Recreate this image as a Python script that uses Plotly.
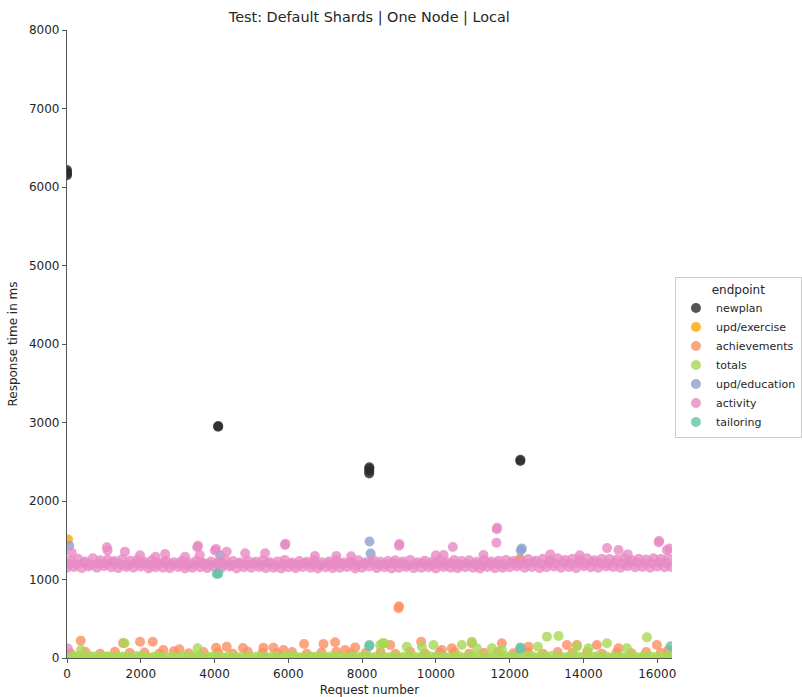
import plotly.graph_objects as go

# ---- response times per endpoint (request number, ms) ----
newplan_x = [0, 0, 0, 0, 4096, 4100, 8192, 8192, 8194, 8196, 12288, 12290]
newplan_y = [6150, 6170, 6190, 6215, 2945, 2955, 2350, 2380, 2410, 2430, 2510, 2525]

upd_exercise_x = [30, 4190, 12270, 12300]
upd_exercise_y = [1510, 1215, 1260, 1250]

upd_education_x = [60, 4150, 8200, 8230, 12330, 12300]
upd_education_y = [1430, 1310, 1485, 1330, 1395, 1370]

tailoring_x = [4060, 4100, 8190, 8200, 12285, 12290, 16360]
tailoring_y = [1070, 1075, 150, 165, 115, 135, 150]

activity_x = [
    0, 190, 400, 590, 810, 1000, 1200, 1390, 1610, 1800, 2000, 2210, 2400, 2600,
    2790, 3010, 3200, 3400, 3610, 3800, 4000, 4190, 4410, 4600, 4800, 5000, 5210,
    5390, 5600, 5810, 6000, 6200, 6390, 6600, 6800, 7010, 7200, 7400, 7590, 7810,
    8000, 8200, 8400, 8610, 8800, 9000, 9190, 9400, 9610, 9800, 10000, 10210,
    10400, 10590, 10800, 11010, 11200, 11400, 11600, 11810, 12000, 12190, 12400,
    12600, 12810, 13000, 13200, 13390, 13600, 13800, 14010, 14200, 14400, 14610,
    14800, 15000, 15190, 15400, 15600, 15810, 16000, 16200, 16380,
    50, 250, 460, 650, 850, 1050, 1240, 1450, 1650, 1860, 2050, 2250, 2440, 2650,
    2850, 3060, 3250, 3450, 3650, 3840, 4050, 4250, 4460, 4650, 4850, 5050, 5240,
    5450, 5650, 5860, 6050, 6250, 6440, 6650, 6850, 7060, 7250, 7450, 7650, 7840,
    8050, 8250, 8460, 8650, 8850, 9050, 9240, 9450, 9650, 9860, 10050, 10250,
    10440, 10650, 10850, 11060, 11250, 11450, 11650, 11840, 12050, 12250, 12460,
    12650, 12850, 13050, 13240, 13450, 13650, 13860, 14050, 14250, 14440, 14650,
    14850, 15060, 15250, 15450, 15650, 15840, 16050, 16250,
    90, 300, 490, 700, 900, 1100, 1290, 1500, 1710, 1900, 2100, 2300, 2500, 2690,
    2900, 3100, 3300, 3510, 3700, 3900, 4100, 4300, 4500, 4700, 4900, 5110, 5300,
    5500, 5700, 5900, 6100, 6300, 6500, 6700, 6900, 7100, 7300, 7500, 7700, 7900,
    8100, 8300, 8500, 8700, 8900, 9100, 9300, 9500, 9700, 9900, 10100, 10300,
    10500, 10700, 10900, 11100, 11300, 11500, 11700, 11900, 12100, 12300, 12500,
    12700, 12900, 13100, 13300, 13500, 13700, 13900, 14100, 14300, 14500, 14700,
    14900, 15100, 15300, 15500, 15700, 15900, 16100, 16300,
    20, 130, 1080, 1100, 1570, 1980, 2660, 3530, 3550, 3600, 4010, 4040, 4330,
    4830, 5370, 5910, 5920, 9000, 9010, 10210, 10460, 11290, 11640, 11650, 11660,
    14640, 14950, 16040, 16050, 16260, 16330, 6720, 7300, 10000, 13100, 13900,
    15200, 2400, 3200, 7700,
]
activity_y = [
    1150, 1160, 1145, 1165, 1150, 1170, 1155, 1145, 1160, 1150, 1165, 1140, 1155,
    1150, 1145, 1160, 1140, 1150, 1155, 1145, 1160, 1150, 1165, 1140, 1155, 1150,
    1160, 1145, 1150, 1140, 1155, 1145, 1160, 1150, 1140, 1155, 1145, 1150, 1160,
    1140, 1150, 1165, 1145, 1155, 1140, 1150, 1160, 1145, 1150, 1155, 1140, 1160,
    1150, 1145, 1155, 1150, 1140, 1160, 1145, 1150, 1155, 1165, 1150, 1160, 1145,
    1155, 1165, 1150, 1160, 1145, 1170, 1155, 1150, 1165, 1160, 1150, 1170, 1155,
    1160, 1150, 1165, 1155, 1160,
    1200, 1195, 1210, 1190, 1205, 1200, 1215, 1195, 1190, 1205, 1200, 1185, 1195,
    1210, 1190, 1200, 1185, 1195, 1205, 1190, 1200, 1195, 1185, 1205, 1195, 1200,
    1190, 1210, 1185, 1195, 1200, 1190, 1205, 1195, 1185, 1200, 1190, 1195, 1205,
    1185, 1200, 1210, 1190, 1195, 1205, 1200, 1185, 1195, 1210, 1190, 1200, 1195,
    1205, 1190, 1200, 1195, 1185, 1205, 1200, 1195, 1210, 1200, 1205, 1215, 1200,
    1210, 1205, 1215, 1200, 1210, 1205, 1215, 1210, 1200, 1215, 1205, 1210, 1215,
    1205, 1210, 1215, 1210,
    1240, 1265, 1230, 1270, 1245, 1255, 1235, 1260, 1240, 1250, 1225, 1245, 1215,
    1240, 1220, 1235, 1215, 1240, 1210, 1230, 1225, 1245, 1235, 1215, 1240, 1225,
    1245, 1220, 1230, 1250, 1215, 1235, 1225, 1245, 1220, 1230, 1240, 1215, 1225,
    1245, 1220, 1250, 1225, 1235, 1245, 1230, 1250, 1220, 1240, 1225, 1245, 1220,
    1250, 1235, 1245, 1225, 1245, 1230, 1240, 1250, 1235, 1245, 1260, 1240, 1265,
    1245, 1270, 1250, 1265, 1255, 1270, 1245, 1265, 1260, 1255, 1270, 1250, 1265,
    1255, 1270, 1260, 1275,
    120, 1340, 1410, 1370, 1355, 1310, 1325, 1410, 1430, 1312, 1370, 1390, 1354,
    1333, 1333, 1440, 1455, 1430, 1452, 1312, 1415, 1312, 1469, 1640, 1660, 1400,
    1376, 1474, 1490, 1376, 1395, 1300, 1300, 1310, 1320, 1310, 1320, 1290, 1290,
    1295,
]

totals_x = [
    0, 250, 500, 760, 1000, 1250, 1500, 1750, 2010, 2250, 2500, 2750, 3000, 3250,
    3500, 3760, 4000, 4250, 4500, 4750, 5000, 5250, 5500, 5760, 6000, 6250, 6500,
    6750, 7000, 7250, 7500, 7750, 8000, 8250, 8500, 8750, 9000, 9260, 9500, 9750,
    10000, 10250, 10500, 10750, 11000, 11250, 11500, 11760, 12000, 12250, 12500,
    12750, 13000, 13250, 13500, 13750, 14000, 14250, 14500, 14760, 15000, 15250,
    15500, 15750, 16000, 16250, 16390,
    125, 375, 625, 880, 1125, 1375, 1625, 1880, 2125, 2375, 2625, 2880, 3125, 3375,
    3625, 3880, 4125, 4375, 4625, 4880, 5125, 5375, 5625, 5880, 6125, 6375, 6625,
    6880, 7125, 7375, 7625, 7880, 8125, 8375, 8625, 8880, 9125, 9375, 9625, 9880,
    10125, 10375, 10625, 10880, 11125, 11375, 11625, 11880, 12125, 12375, 12625,
    12880, 13125, 13375, 13625, 13880, 14125, 14375, 14625, 14880, 15125, 15375,
    15625, 15880, 16125, 16350,
    35, 371, 643, 1094, 1546, 1980, 3534, 6156, 6725, 7268, 8488, 8551, 9212,
    9618, 9934, 10703, 10975, 11110, 11517, 11788, 12765, 13009, 13324, 13822,
    14137, 14636, 15178, 15720, 380, 1560, 3540, 8600,
]
totals_y = [
    10, 15, 5, 20, 10, 5, 15, 10, 20, 5, 15, 10, 5, 15, 5, 10, 20, 5, 15, 10,
    5, 15, 10, 5, 20, 10, 15, 5, 10, 20, 5, 15, 10, 5, 15, 10, 5, 20, 10, 15,
    5, 10, 20, 5, 15, 10, 5, 15, 10, 5, 20, 10, 15, 5, 10, 20, 5, 15, 10, 5,
    15, 10, 5, 20, 10, 15, 10,
    20, 15, 25, 10, 20, 15, 10, 25, 15, 20, 10, 15, 25, 20, 10, 15, 20, 25, 10,
    15, 20, 10, 25, 15, 20, 10, 15, 25, 20, 10, 15, 20, 25, 15, 10, 20, 15, 25,
    10, 20, 15, 10, 25, 20, 15, 10, 20, 25, 15, 10, 20, 15, 25, 10, 20, 15, 10,
    25, 20, 15, 10, 20, 25, 15, 10, 20, 15, 25, 10, 20, 15, 10, 25, 20, 15, 10,
    166, 187, 144, 144, 166, 166, 208, 123, 123, 102, 144, 272, 280, 144, 123, 187,
    123, 263, 102, 187, 123, 187, 123, 144, 114, 114, 229, 123, 110, 120, 235, 100,
]

achievements_x = [
    100, 500, 900, 1300, 1700, 2100, 2500, 2900, 3300, 3700, 4100, 4500, 4900,
    5300, 5700, 6100, 6500, 6900, 7300, 7700, 8100, 8500, 8900, 9300, 9700, 10100,
    10500, 10900, 11300, 11700, 12100, 12500, 12900, 13300, 13700, 14100, 14500,
    14900, 15300, 15700, 16100,
    371, 1520, 1980, 2324, 2612, 3046, 4040, 4330, 4770, 5325, 5595, 5866, 6427,
    6952, 7268, 7539, 7810, 8760, 9600, 10161, 10432, 10975, 11788, 12510, 13551,
    13822, 14364, 14951, 15991, 8985, 9000, 16300,
]
achievements_y = [
    60, 75, 55, 80, 65, 70, 55, 85, 60, 75, 70, 55, 80, 65, 60, 75, 55, 70, 80, 60,
    65, 75, 55, 80, 60, 70, 75, 55, 65, 80, 60, 70, 55, 75, 65, 80, 55, 70, 60, 75,
    65,
    221, 190, 208, 208, 102, 110, 131, 144, 127, 131, 131, 102, 178, 178, 200, 102,
    135, 166, 208, 102, 123, 187, 187, 144, 166, 166, 166, 123, 166, 633, 660, 100,
]

x_ticks = [0, 2000, 4000, 6000, 8000, 10000, 12000, 14000, 16000]
y_ticks = [0, 1000, 2000, 3000, 4000, 5000, 6000, 7000, 8000]

# (name, x, y, colour, legend rank); traces are listed in drawing order
series = [
    ("newplan", newplan_x, newplan_y, "#2b2b2b", 1),
    ("upd/exercise", upd_exercise_x, upd_exercise_y, "#ffa500", 2),
    ("upd/education", upd_education_x, upd_education_y, "#8da0cb", 5),
    ("achievements", achievements_x, achievements_y, "#fc8d62", 3),
    ("totals", totals_x, totals_y, "#a6d854", 4),
    ("activity", activity_x, activity_y, "#e78ac3", 6),
    ("tailoring", tailoring_x, tailoring_y, "#66c2a5", 7),
]

FONT = "DejaVu Sans"
TEXT = "#262626"

fig = go.Figure()
for name, xs, ys, color, rank in series:
    fig.add_trace(go.Scatter(
        x=xs, y=ys, mode="markers", name=name, legendrank=rank,
        marker=dict(size=10, color=color, opacity=0.8, line=dict(width=0)),
        cliponaxis=True,
    ))

axis_common = dict(
    showgrid=False, zeroline=False, showline=True, linecolor="#555555",
    linewidth=1.2, ticks="outside", ticklen=4, tickcolor="#555555", tickwidth=1,
    tickfont=dict(family=FONT, size=12, color=TEXT), mirror=False,
    automargin=False,
)

fig.update_layout(
    width=802, height=697,
    margin=dict(l=67, r=130, t=30, b=39),
    paper_bgcolor="white", plot_bgcolor="white",
    font=dict(family=FONT, size=12, color=TEXT),
    title=dict(text="Test: Default Shards | One Node | Local", x=0.4605,
               xanchor="center", y=0.975, yanchor="middle",
               font=dict(family=FONT, size=14.4, color=TEXT)),
    xaxis=dict(range=[0, 16400], tickvals=x_ticks,
               ticktext=[str(v) for v in x_ticks],
               title=dict(text="Request number", standoff=16,
                          font=dict(family=FONT, size=12, color=TEXT)),
               **axis_common),
    yaxis=dict(range=[0, 8000], tickvals=y_ticks,
               ticktext=[str(v) for v in y_ticks],
               title=dict(text="Response time in ms", standoff=8,
                          font=dict(family=FONT, size=12, color=TEXT)),
               **axis_common),
    legend=dict(
        title=dict(text="endpoint", side="top center",
                   font=dict(family=FONT, size=12, color=TEXT)),
        xref="container", yref="container",
        x=0.8416, xanchor="left", y=0.6026, yanchor="top",
        bordercolor="#cccccc", borderwidth=1, bgcolor="white",
        font=dict(family=FONT, size=11, color=TEXT),
        itemwidth=30, tracegroupgap=0,
        entrywidth=90, entrywidthmode="pixels",
    ),
)

fig.write_html("out.html")
